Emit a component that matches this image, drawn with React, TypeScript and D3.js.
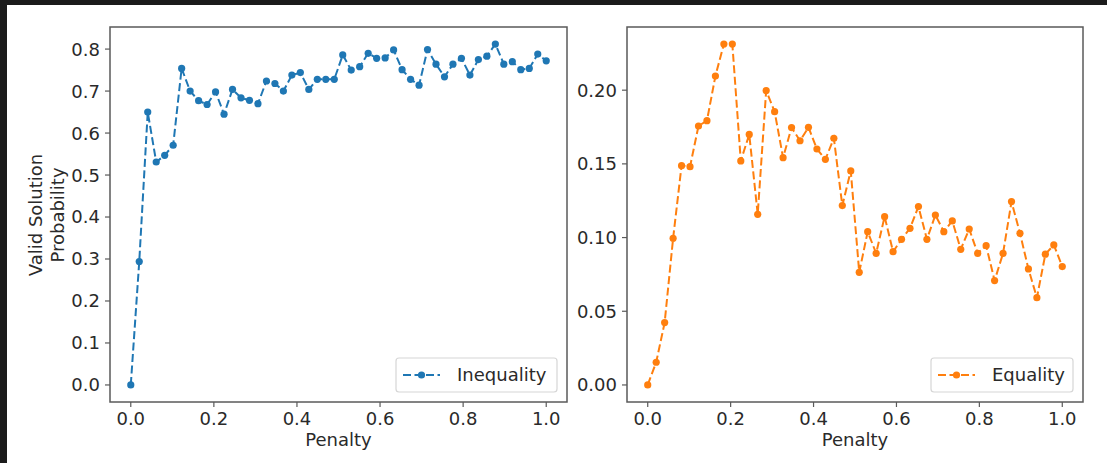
import React from "react";
import * as d3 from "d3";

const penalty: number[] = d3.range(50).map((i) => i / 49);

const inequality: number[] = [
  0.0, 0.294, 0.65, 0.531, 0.547, 0.571, 0.754, 0.7, 0.677, 0.668,
  0.698, 0.645, 0.704, 0.684, 0.678, 0.67, 0.724, 0.718, 0.7, 0.738,
  0.744, 0.704, 0.728, 0.728, 0.728, 0.786, 0.75, 0.758, 0.79, 0.778,
  0.779, 0.798, 0.751, 0.728, 0.714, 0.799, 0.764, 0.734, 0.764, 0.778,
  0.738, 0.775, 0.783, 0.812, 0.764, 0.77, 0.751, 0.754, 0.788, 0.772,
];

const equality: number[] = [
  0.0, 0.0154, 0.0423, 0.0995, 0.1488, 0.1481, 0.1757, 0.1793, 0.2096, 0.2313,
  0.2313, 0.152, 0.17, 0.1158, 0.1997, 0.1854, 0.1542, 0.1746, 0.1657, 0.1748,
  0.1601, 0.1531, 0.1674, 0.1217, 0.1452, 0.0764, 0.104, 0.0893, 0.1142, 0.0904,
  0.0988, 0.1063, 0.121, 0.0988, 0.1153, 0.104, 0.1113, 0.092, 0.1058, 0.0893,
  0.0945, 0.0708, 0.0893, 0.1244, 0.1029, 0.0787, 0.0592, 0.0887, 0.095, 0.0803,
];

const xTicks: number[] = [0, 0.2, 0.4, 0.6, 0.8, 1.0];
const leftYTicks: number[] = [0, 0.1, 0.2, 0.3, 0.4, 0.5, 0.6, 0.7, 0.8];
const rightYTicks: number[] = [0, 0.05, 0.1, 0.15, 0.2];

const FONT = "DejaVu Sans";
const TEXT = "#2a2a2a";
const SPINE = "#5a5a5a";

function padDomain(vals: number[]): [number, number] {
  const [lo, hi] = d3.extent(vals) as [number, number];
  const m = (hi - lo) * 0.05;
  return [lo - m, hi + m];
}

type PanelProps = {
  x0: number;
  x1: number;
  y0: number;
  y1: number;
  values: number[];
  yTicks: number[];
  yFmt: string;
  color: string;
  label: string;
  legendBox: [number, number, number, number];
};

function Panel({ x0, x1, y0, y1, values, yTicks, yFmt, color, label, legendBox }: PanelProps) {
  const x = d3.scaleLinear().domain(padDomain(penalty)).range([x0, x1]);
  const y = d3.scaleLinear().domain(padDomain(values)).range([y1, y0]);
  const line = d3
    .line<number>()
    .x((_, i) => x(penalty[i]))
    .y((d) => y(d));
  const fx = d3.format(".1f");
  const fy = d3.format(yFmt);
  const [lx, ly, lw, lh] = legendBox;
  const hy = ly + lh / 2;
  const hx0 = lx + 7;
  const hx1 = lx + 44;
  return (
    <g>
      <path
        d={line(values) || ""}
        fill="none"
        stroke={color}
        strokeWidth={2}
        strokeDasharray="8,3.5"
      />
      {values.map((v, i) => (
        <circle key={i} cx={x(penalty[i])} cy={y(v)} r={3.6} fill={color} />
      ))}
      <rect x={x0} y={y0} width={x1 - x0} height={y1 - y0} fill="none" stroke={SPINE} strokeWidth={1.5} />
      {xTicks.map((t) => (
        <g key={"x" + t}>
          <line x1={x(t)} x2={x(t)} y1={y1} y2={y1 + 5} stroke={SPINE} strokeWidth={1.2} />
          <text x={x(t)} y={y1 + 23} textAnchor="middle" fontFamily={FONT} fontSize={18} fill={TEXT}>
            {fx(t)}
          </text>
        </g>
      ))}
      {yTicks.map((t) => (
        <g key={"y" + t}>
          <line x1={x0 - 5} x2={x0} y1={y(t)} y2={y(t)} stroke={SPINE} strokeWidth={1.2} />
          <text x={x0 - 10} y={y(t)} dy="0.36em" textAnchor="end" fontFamily={FONT} fontSize={18} fill={TEXT}>
            {fy(t)}
          </text>
        </g>
      ))}
      <text x={(x0 + x1) / 2} y={y1 + 44} textAnchor="middle" fontFamily={FONT} fontSize={18} fill={TEXT}>
        Penalty
      </text>
      <rect x={lx} y={ly} width={lw} height={lh} rx={3} fill="#fff" fillOpacity={0.85} stroke="#d6d6d6" strokeWidth={1.2} />
      <line x1={hx0} x2={hx1} y1={hy} y2={hy} stroke={color} strokeWidth={2} strokeDasharray="8,3.5" />
      <circle cx={(hx0 + hx1) / 2} cy={hy} r={3.6} fill={color} />
      <text x={lx + 61} y={hy} dy="0.36em" fontFamily={FONT} fontSize={18} fill={TEXT}>
        {label}
      </text>
    </g>
  );
}

export default function App() {
  return (
    <svg
      width={1107}
      height={463}
      style={{ position: "absolute", left: 0, top: 0, background: "#fff" }}
    >
      <rect x={0} y={0} width={1107} height={463} fill="#fff" />
      <rect x={0} y={0} width={1107} height={5} fill="#1b1b1b" />
      <rect x={0} y={0} width={7} height={463} fill="#1b1b1b" />
      <Panel
        x0={110}
        x1={567}
        y0={27}
        y1={402}
        values={inequality}
        yTicks={leftYTicks}
        yFmt=".1f"
        color="#1f77b4"
        label="Inequality"
        legendBox={[396, 358, 161, 34]}
      />
      <Panel
        x0={627}
        x1={1083}
        y0={27}
        y1={402}
        values={equality}
        yTicks={rightYTicks}
        yFmt=".2f"
        color="#ff7f0e"
        label="Equality"
        legendBox={[931, 358, 142, 34]}
      />
      <text
        transform="translate(42,215) rotate(-90)"
        textAnchor="middle"
        fontFamily={FONT}
        fontSize={18}
        fill={TEXT}
      >
        Valid Solution
      </text>
      <text
        transform="translate(64,215) rotate(-90)"
        textAnchor="middle"
        fontFamily={FONT}
        fontSize={18}
        fill={TEXT}
      >
        Probability
      </text>
    </svg>
  );
}
